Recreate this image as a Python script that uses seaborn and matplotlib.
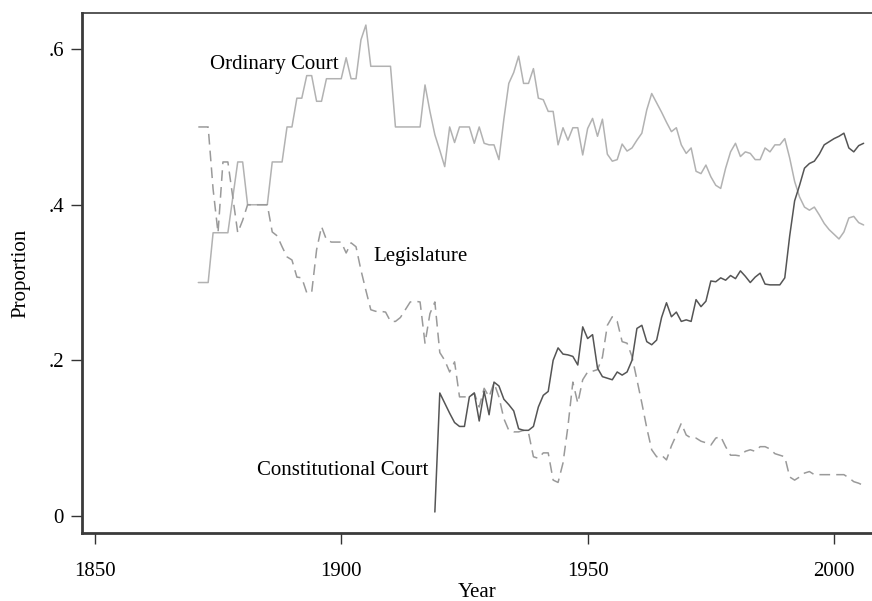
import numpy as np
import pandas as pd
import seaborn as sns
import matplotlib.pyplot as plt

# yearly shares
years = list(range(1871, 2007))

ordinary = [
    0.30, 0.30, 0.30, 0.364, 0.364, 0.364, 0.364, 0.41, 0.455, 0.455,
    0.40, 0.40, 0.40, 0.40, 0.40, 0.455, 0.455, 0.455, 0.50, 0.50,
    0.537, 0.537, 0.566, 0.566, 0.533, 0.533, 0.562, 0.562, 0.562, 0.562,
    0.589, 0.562, 0.562, 0.612, 0.631, 0.578, 0.578, 0.578, 0.578, 0.578,
    0.50, 0.50, 0.50, 0.50, 0.50, 0.50, 0.554, 0.52, 0.49, 0.47,
    0.449, 0.50, 0.48, 0.50, 0.50, 0.50, 0.479, 0.50, 0.479, 0.477,
    0.477, 0.458, 0.51, 0.556, 0.57, 0.591, 0.556, 0.556, 0.575, 0.537,
    0.535, 0.52, 0.52, 0.477, 0.499, 0.483, 0.499, 0.499, 0.464, 0.498,
    0.511, 0.488, 0.51, 0.465, 0.456, 0.458, 0.478, 0.469, 0.473, 0.483,
    0.492, 0.522, 0.543, 0.531, 0.519, 0.506, 0.494, 0.499, 0.477, 0.466,
    0.473, 0.443, 0.44, 0.451, 0.436, 0.425, 0.421, 0.447, 0.468, 0.479,
    0.462, 0.468, 0.466, 0.458, 0.458, 0.473, 0.468, 0.477, 0.477, 0.485,
    0.46, 0.43, 0.41, 0.397, 0.393, 0.397, 0.387, 0.376, 0.368, 0.362,
    0.356, 0.365, 0.383, 0.385, 0.377, 0.374,
]

legislature = [
    0.50, 0.50, 0.50, 0.42, 0.364, 0.455, 0.455, 0.41, 0.364, 0.38,
    0.40, 0.40, 0.40, 0.40, 0.40, 0.365, 0.36, 0.346, 0.333, 0.329,
    0.307, 0.306, 0.287, 0.287, 0.342, 0.372, 0.355, 0.352, 0.352, 0.352,
    0.338, 0.351, 0.346, 0.316, 0.29, 0.265, 0.263, 0.263, 0.262, 0.25,
    0.25, 0.255, 0.265, 0.275, 0.276, 0.275, 0.222, 0.26, 0.275, 0.21,
    0.20, 0.185, 0.198, 0.153, 0.153, 0.153, 0.158, 0.14, 0.164, 0.153,
    0.171, 0.153, 0.125, 0.11, 0.108, 0.108, 0.11, 0.107, 0.076, 0.074,
    0.081, 0.081, 0.046, 0.043, 0.068, 0.115, 0.172, 0.145, 0.175, 0.185,
    0.186, 0.188, 0.204, 0.245, 0.256, 0.25, 0.224, 0.222, 0.205, 0.175,
    0.145, 0.113, 0.085, 0.076, 0.078, 0.072, 0.09, 0.104, 0.119, 0.104,
    0.10, 0.10, 0.096, 0.094, 0.091, 0.10, 0.102, 0.089, 0.078, 0.078,
    0.077, 0.083, 0.085, 0.083, 0.089, 0.089, 0.086, 0.08, 0.078, 0.076,
    0.05, 0.046, 0.05, 0.055, 0.057, 0.053, 0.053, 0.053, 0.053, 0.053,
    0.053, 0.053, 0.049, 0.044, 0.042, 0.039,
]

cc_years = list(range(1919, 2007))
constitutional = [
    0.005, 0.158,
    0.145, 0.132, 0.12, 0.115, 0.115, 0.153, 0.158, 0.122, 0.16, 0.13,
    0.172, 0.167, 0.15, 0.143, 0.135, 0.112, 0.11, 0.11, 0.115, 0.14,
    0.155, 0.16, 0.20, 0.216, 0.208, 0.207, 0.205, 0.194, 0.243, 0.228,
    0.233, 0.19, 0.179, 0.177, 0.175, 0.185, 0.181, 0.185, 0.20, 0.241,
    0.245, 0.224, 0.22, 0.226, 0.255, 0.274, 0.256, 0.262, 0.25, 0.252,
    0.25, 0.278, 0.269, 0.276, 0.302, 0.301, 0.306, 0.303, 0.309, 0.305,
    0.315, 0.308, 0.30, 0.307, 0.312, 0.298, 0.297, 0.297, 0.297, 0.306,
    0.36, 0.405, 0.425, 0.447, 0.453, 0.456, 0.465, 0.477, 0.481, 0.485,
    0.488, 0.492, 0.473, 0.468, 0.476, 0.479,
]

x_ticks = [1850, 1900, 1950, 2000]
y_ticks = [0, 0.2, 0.4, 0.6]
y_tick_labels = ['0', '.2', '.4', '.6']

sns.set_theme(style='white')
plt.rcParams['font.family'] = ['Liberation Serif', 'DejaVu Serif']

fig = plt.figure(figsize=(8.72, 6.01), dpi=100)
ax = fig.add_axes([82 / 872, 1 - 533 / 601, 790 / 872, 520 / 601])

sns.lineplot(x=years, y=ordinary, color='#b2b2b2', lw=1.1, ax=ax)
sns.lineplot(x=years, y=legislature, color='#9a9a9a', lw=1.1,
             linestyle=(0, (7, 4)), ax=ax)
sns.lineplot(x=cc_years, y=constitutional, color='#555555', lw=1.1, ax=ax)

ax.text(1873.3, 0.58, 'Ordinary Court', va='center', fontsize=15, color='black')
ax.text(1906.6, 0.334, 'Legislature', va='center', fontsize=15, color='black')
ax.text(1882.9, 0.058, 'Constitutional Court', va='center', fontsize=15, color='black')

ax.set_xlim(1847.4, 2007.7)
ax.set_ylim(-0.022, 0.6465)
ax.set_xticks(x_ticks)
ax.set_yticks(y_ticks)
ax.set_yticklabels(y_tick_labels)
ax.tick_params(bottom=True, left=True, direction='out', length=8, width=1,
               color='#333333', labelsize=15, labelcolor='black')
ax.tick_params(axis='x', pad=13)
ax.tick_params(axis='y', pad=5)
ax.set_xlabel('Year', fontsize=15, color='black', labelpad=1)
ax.set_ylabel('Proportion', fontsize=15, color='black', labelpad=13)

for side in ['left', 'bottom']:
    ax.spines[side].set_linewidth(2)
    ax.spines[side].set_color('#3a3a3a')
ax.spines['top'].set_linewidth(1.2)
ax.spines['top'].set_color('#3a3a3a')
ax.spines['right'].set_visible(False)

fig.savefig('out.png', dpi=100)
plt.close(fig)
